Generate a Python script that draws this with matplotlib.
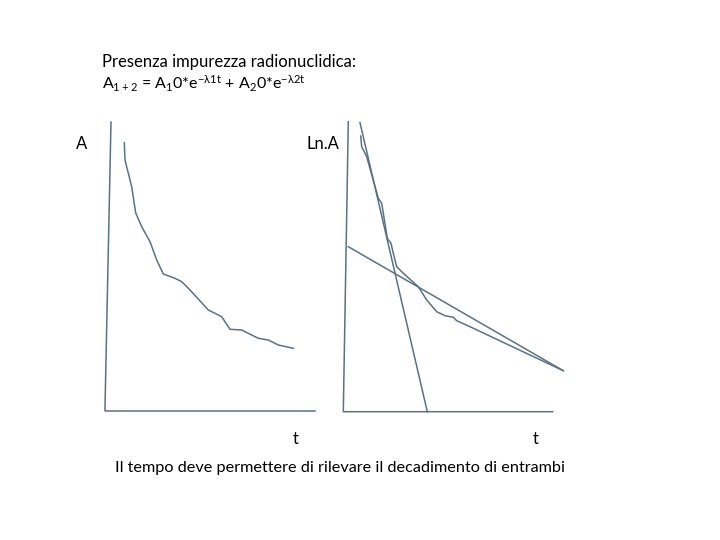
import matplotlib.pyplot as plt

# traced shapes, in pixel coordinates of the 720x540 slide
left_axis_x = [111, 105, 105, 315]
left_axis_y = [122, 407, 411, 411]

curve_a_x = [124.3, 125, 131.7, 135.7, 141.7, 150, 156.7, 163.3, 175, 181.7, 190,
             208.3, 221.7, 230, 241.7, 258.3, 268.3, 278.3, 293.3]
curve_a_y = [142.7, 160, 186.7, 213, 226.7, 241.7, 260, 274, 278.3, 281.7, 290,
             310, 316.7, 329.3, 330, 338.3, 340, 345, 348.3]

right_axis_x = [348.3, 343.3, 343.3, 552.7]
right_axis_y = [121.7, 411.7, 411.7, 411.7]

steep_x = [360, 427.3]
steep_y = [122.7, 411.7]
shallow_x = [348.3, 563.3]
shallow_y = [246.7, 370.7]

curve_ln_x = [360.7, 361.7, 366.7, 378.3, 381.7, 387.3, 391, 393.3, 396.7, 403.3,
              418.3, 426.7, 436.7, 445, 453.3, 456.7, 470, 563.3]
curve_ln_y = [136, 146.7, 156.7, 198.3, 203.3, 238.3, 243.3, 253.3, 266.7, 273.3,
              286.7, 300, 311.7, 315.7, 317.3, 320.7, 326.7, 370.7]

col = "#5b7282"
plt.rcParams['font.family'] = ['Lato', 'DejaVu Sans']
plt.rcParams['mathtext.default'] = 'regular'

fig = plt.figure(figsize=(7.2, 5.4), dpi=100)
ax = fig.add_axes([0, 0, 1, 1])
ax.set_xlim(0, 720)
ax.set_ylim(540, 0)
ax.axis('off')

for xs, ys in [(left_axis_x, left_axis_y), (curve_a_x, curve_a_y),
               (right_axis_x, right_axis_y), (steep_x, steep_y),
               (shallow_x, shallow_y), (curve_ln_x, curve_ln_y)]:
    ax.plot(xs, ys, color=col, lw=1.1)

fs = 12
ax.text(102, 62, "Presenza impurezza radionuclidica:", fontsize=fs, va='center')
ax.text(102, 84, r"A$_{1+2}$ = A$_1$0*e$^{-\lambda1t}$ + A$_2$0*e$^{-\lambda2t}$",
        fontsize=fs - 0.5, va='center')
ax.text(76, 144, "A", fontsize=fs, va='center')
ax.text(306, 144, "Ln.A", fontsize=fs, va='center')
ax.text(296, 439, "t", fontsize=fs, va='center', ha='center')
ax.text(536, 439, "t", fontsize=fs, va='center', ha='center')
ax.text(340, 468, "Il tempo deve permettere di rilevare il decadimento di entrambi",
        fontsize=fs - 0.3, va='center', ha='center')

fig.savefig("out.png", dpi=100)
